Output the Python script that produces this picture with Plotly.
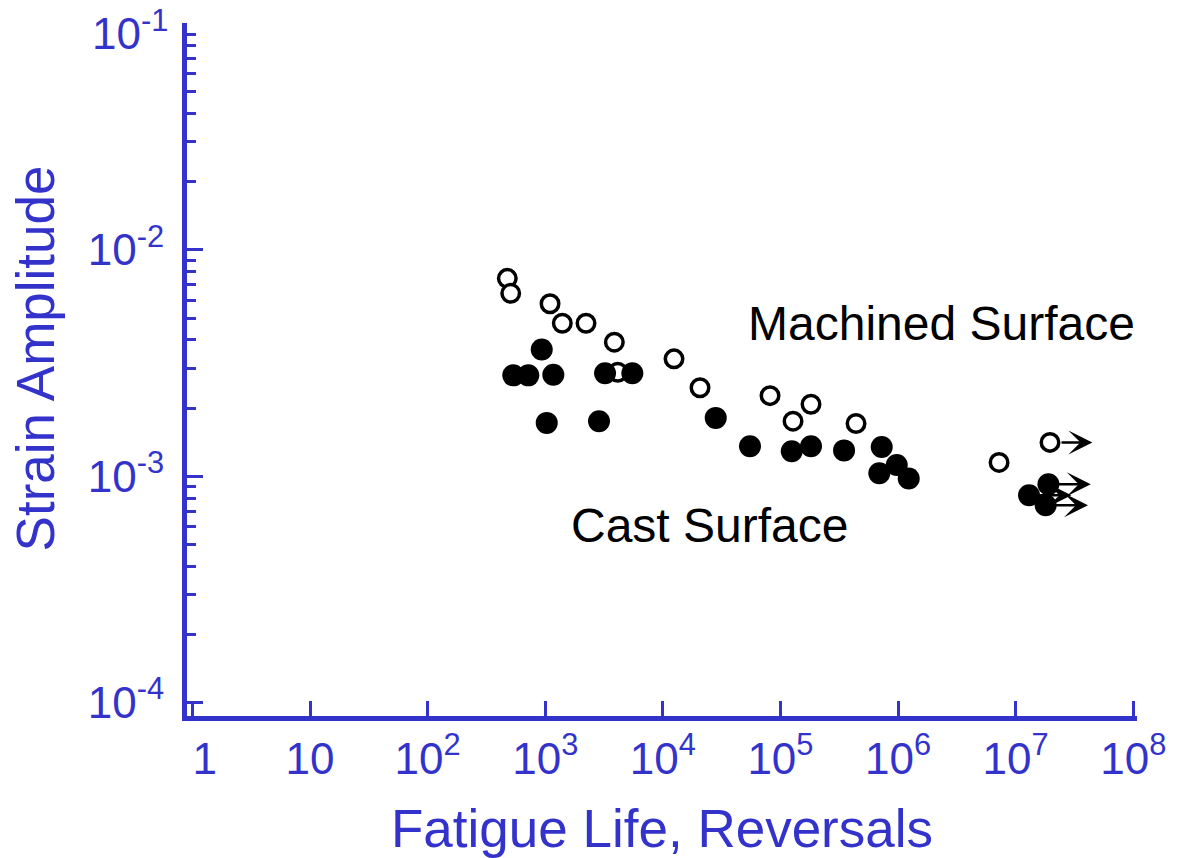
import math
import plotly.graph_objects as go

# ---------------- data ----------------
machined_life = [476, 509, 1099, 1397, 2223, 3870, 4138, 12450, 20720,
                 81600, 182000, 128000, 439500, 7.23e6, 1.96e7]
machined_strain = [0.00749, 0.00643, 0.00578, 0.00474, 0.00474, 0.00391,
                   0.00288, 0.00330, 0.00246, 0.00227, 0.00208, 0.00175,
                   0.00171, 0.00115, 0.00141]
machined_runout = [False] * 14 + [True]

cast_life = [934, 535, 718, 1172, 1030, 2867, 3226, 5506, 28180, 55100,
             124800, 182000, 347500, 726600, 975000, 693000, 1.233e6,
             1.30e7, 1.90e7, 1.80e7]
cast_strain = [0.00363, 0.00279, 0.00279, 0.00281, 0.00172, 0.00175,
               0.00285, 0.00285, 0.00181, 0.001355, 0.00129, 0.001355,
               0.00130, 0.001345, 0.00112, 0.00103, 0.000976, 0.000824,
               0.000921, 0.000744]
cast_runout = [False] * 17 + [True, True, True]

x_tickvals = [1, 10, 1e2, 1e3, 1e4, 1e5, 1e6, 1e7, 1e8]
x_ticktext = ["\u00a0\u00a01", "10", "10<sup>2</sup>", "10<sup>3</sup>",
              "10<sup>4</sup>", "10<sup>5</sup>", "10<sup>6</sup>",
              "10<sup>7</sup>", "10<sup>8</sup>"]
y_tickvals = [1e-4, 1e-3, 1e-2, 1e-1]
y_ticktext = ["10<sup>-4</sup>", "10<sup>-3</sup>", "10<sup>-2</sup>",
              "10<sup>-1</sup>"]

label_machined = "Machined Surface"
label_cast = "Cast Surface"
x_title = "Fatigue Life, Reversals"
y_title = "Strain Amplitude"

# ---------------- style ----------------
BLUE = "rgb(51,51,204)"
FONT = "Arial, 'Liberation Sans', sans-serif"
ARROW_DECADES = 0.36

fig = go.Figure()

fig.add_trace(go.Scatter(
    x=machined_life, y=machined_strain, mode="markers",
    name=label_machined,
    marker=dict(symbol="circle", size=17.5, color="white",
                line=dict(color="black", width=3.5)),
))
fig.add_trace(go.Scatter(
    x=cast_life, y=cast_strain, mode="markers",
    name=label_cast,
    marker=dict(symbol="circle", size=22, color="black",
                line=dict(color="black", width=0)),
))

annotations = []
for life, strain, run, standoff in (
        [(l, s, r, 10) for l, s, r in zip(machined_life, machined_strain, machined_runout)]
        + [(l, s, r, 0) for l, s, r in zip(cast_life, cast_strain, cast_runout)]):
    if not run:
        continue
    lx = math.log10(life)
    ly = math.log10(strain)
    annotations.append(dict(
        x=lx + ARROW_DECADES, y=ly, ax=lx, ay=ly,
        xref="x", yref="y", axref="x", ayref="y",
        text="", showarrow=True, arrowhead=3, arrowsize=1.6,
        arrowwidth=2.5, arrowcolor="black", startstandoff=standoff,
    ))

annotations.append(dict(
    x=0.794, y=0.566, xref="paper", yref="paper", text=label_machined,
    showarrow=False, font=dict(family=FONT, size=48, color="black"),
    xanchor="center", yanchor="middle"))
annotations.append(dict(
    x=0.5505, y=0.2745, xref="paper", yref="paper", text=label_cast,
    showarrow=False, font=dict(family=FONT, size=48, color="black"),
    xanchor="center", yanchor="middle"))
# y-axis title (placed as rotated text to match the reference offset)
annotations.append(dict(
    x=-0.160, y=0.516, xref="paper", yref="paper", text=y_title,
    showarrow=False, textangle=-90,
    font=dict(family=FONT, size=53, color=BLUE),
    xanchor="center", yanchor="middle"))
# top y tick label sits a little below its tick (as in the reference)
annotations.append(dict(
    x=0, y=math.log10(y_tickvals[-1]), xref="paper", yref="y",
    text=y_ticktext[-1], showarrow=False,
    font=dict(family=FONT, size=44, color=BLUE),
    xanchor="right", yanchor="middle", xshift=-17, yshift=-7))

minor_y = [k * 10.0 ** e for e in range(-4, -1) for k in range(2, 10)]

fig.update_layout(
    width=1170, height=850,
    margin=dict(l=179, r=41, t=15, b=142),
    plot_bgcolor="white", paper_bgcolor="white",
    showlegend=False,
    font=dict(family=FONT, color=BLUE),
    annotations=annotations,
    xaxis=dict(
        type="log", range=[-0.046, 8.032],
        tickmode="array", tickvals=x_tickvals, ticktext=x_ticktext,
        ticks="inside", ticklen=15, tickwidth=3, tickcolor=BLUE,
        showline=True, linewidth=5, linecolor=BLUE,
        showgrid=False, zeroline=False,
        tickfont=dict(family=FONT, size=44, color=BLUE),
        ticklabelstandoff=0,
        title=dict(text=x_title, font=dict(family=FONT, size=53, color=BLUE),
                   standoff=30),
        automargin=False,
    ),
    yaxis=dict(
        type="log", range=[-4.06, -0.997],
        tickmode="array", tickvals=y_tickvals,
        ticktext=y_ticktext[:-1] + [""],
        ticks="inside", ticklen=16, tickwidth=3, tickcolor=BLUE,
        minor=dict(tickmode="array", tickvals=minor_y, ticks="inside",
                   ticklen=9, tickwidth=3, tickcolor=BLUE, showgrid=False),
        showline=True, linewidth=5, linecolor=BLUE,
        showgrid=False, zeroline=False,
        tickfont=dict(family=FONT, size=44, color=BLUE),
        ticklabelstandoff=9,
        automargin=False,
    ),
)

fig.write_html("out.html")
